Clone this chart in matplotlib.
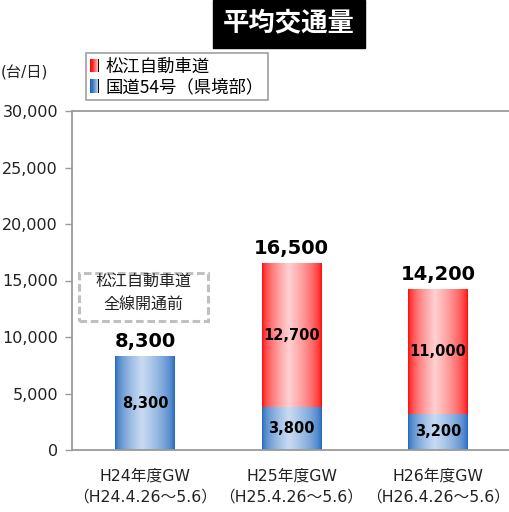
import matplotlib
matplotlib.use("Agg")
import matplotlib.pyplot as plt
import numpy as np
from matplotlib.patches import Rectangle
from matplotlib.legend_handler import HandlerBase
from matplotlib.colors import to_rgb

plt.rcParams['font.family'] = ['DejaVu Sans', 'Noto Sans CJK JP']

categories = ['H24年度GW\n（H24.4.26～5.6）', 'H25年度GW\n（H25.4.26～5.6）', 'H26年度GW\n（H26.4.26～5.6）']
route54 = [8300, 3800, 3200]
matsue = [0, 12700, 11000]
totals = [8300, 16500, 14200]
series_names = ['松江自動車道', '国道54号（県境部）']
yticks = [0, 5000, 10000, 15000, 20000, 25000, 30000]

BLUE_EDGE, BLUE_LIGHT = '#1a62bb', '#c8dbf2'
RED_EDGE, RED_LIGHT = '#ff0000', '#ffd0d0'

def gradient(edge, light, n=200, peak=0.45, p=0.55):
    t = np.linspace(0, 1, n)
    w = np.where(t < peak, t / peak, (1 - t) / (1 - peak))
    w = np.clip(w, 0, 1) ** p
    e = np.array(to_rgb(edge)); l = np.array(to_rgb(light))
    cols = e[None, :] * (1 - w[:, None]) + l[None, :] * w[:, None]
    return cols[None, :, :]

fig = plt.figure(figsize=(5.09, 5.12), dpi=100)
ax = fig.add_axes([72/509, 1-450/512, 439/509, 339/512])

x = np.arange(len(categories))
width = 0.41
b1 = ax.bar(x, route54, width, facecolor='none', edgecolor='none', zorder=2)
b2 = ax.bar(x, matsue, width, bottom=route54, facecolor='none', edgecolor='none', zorder=2)

for bars, edge, light in [(b1, BLUE_EDGE, BLUE_LIGHT), (b2, RED_EDGE, RED_LIGHT)]:
    for p in bars:
        if p.get_height() <= 0:
            continue
        x0, y0 = p.get_x(), p.get_y()
        ax.imshow(gradient(edge, light), extent=[x0, x0 + p.get_width(), y0, y0 + p.get_height()],
                  aspect='auto', zorder=2, interpolation='bilinear')

ax.set_xlim(-0.5, 2.5)
ax.set_ylim(0, 30000)
ax.set_yticks(yticks)
ax.set_yticklabels([f'{v:,}' for v in yticks], fontsize=11.5, color='#222222')
ax.set_xticks(x)
ax.set_xticklabels(categories, fontsize=11.3, color='#222222', linespacing=1.55)
ax.tick_params(axis='x', length=0, pad=13)
ax.tick_params(axis='y', length=5, width=1, color='#999999', pad=5, direction='out')
ax.spines['right'].set_visible(False)
for s in ['left', 'bottom', 'top']:
    ax.spines[s].set_color('#9a9a9a')
    ax.spines[s].set_linewidth(1.3)

for i in range(len(categories)):
    if route54[i] > 0:
        ax.text(x[i], route54[i] / 2, f'{route54[i]:,}', ha='center', va='center',
                fontsize=10.5, fontweight='bold', color='black', zorder=3)
    if matsue[i] > 0:
        ax.text(x[i], route54[i] + matsue[i] / 2, f'{matsue[i]:,}', ha='center', va='center',
                fontsize=10.5, fontweight='bold', color='black', zorder=3)
    ax.annotate(f'{totals[i]:,}', (x[i], totals[i]), xytext=(0, 4), textcoords='offset points',
                ha='center', va='bottom', fontsize=14, fontweight='bold', color='black')

# title
fig.text(289/509, 1-24/512, '平均交通量', ha='center', va='center', fontsize=19, fontweight='bold',
         color='white', family=['Noto Sans CJK JP'],
         bbox=dict(boxstyle='square,pad=0.38', facecolor='black', edgecolor='black'))

# unit
fig.text(48/509, 1-73/512, '(台/日)', ha='right', va='center', fontsize=11, color='#222222')

# dashed note box
fig.patches.append(Rectangle((79/509, 1-321/512), 129/509, 48/512, transform=fig.transFigure,
                             facecolor='white', edgecolor='#c0c0c0', linewidth=2.2,
                             linestyle=(0, (2.5, 1.2)), zorder=5))
fig.text(143.5/509, 1-293/512, '松江自動車道\n全線開通前', ha='center', va='center', fontsize=11.5,
         color='#222222', family=['Noto Sans CJK JP'], linespacing=1.45, zorder=6)

class GradHandler(HandlerBase):
    def __init__(self, edge, light):
        super().__init__()
        self.edge, self.light = edge, light
    def create_artists(self, legend, orig_handle, xdescent, ydescent, width, height, fontsize, trans):
        cols = gradient(self.edge, self.light, n=8, peak=1.0, p=1.0)[0]
        arts = []
        n = len(cols)
        for k, c in enumerate(cols):
            r = Rectangle((-xdescent + k * width / n, -ydescent), width / n + 0.2, height,
                          facecolor=c, edgecolor='none', transform=trans)
            arts.append(r)
        return arts

h1 = Rectangle((0, 0), 1, 1)
h2 = Rectangle((0, 0), 1, 1)
leg = fig.legend([h1, h2], series_names, loc='upper left', bbox_to_anchor=(86/509, 1-53/512),
                 bbox_transform=fig.transFigure, borderaxespad=0, fancybox=False,
                 edgecolor='#a0a0a0', framealpha=1, handlelength=0.5, handleheight=0.8,
                 handletextpad=0.35, borderpad=0.25, labelspacing=0.15,
                 prop={'family': ['Noto Sans CJK JP'], 'size': 12.5},
                 handler_map={h1: GradHandler(RED_EDGE, RED_LIGHT), h2: GradHandler(BLUE_EDGE, BLUE_LIGHT)})
leg.get_frame().set_linewidth(1.2)

fig.savefig('out.png', dpi=100)
